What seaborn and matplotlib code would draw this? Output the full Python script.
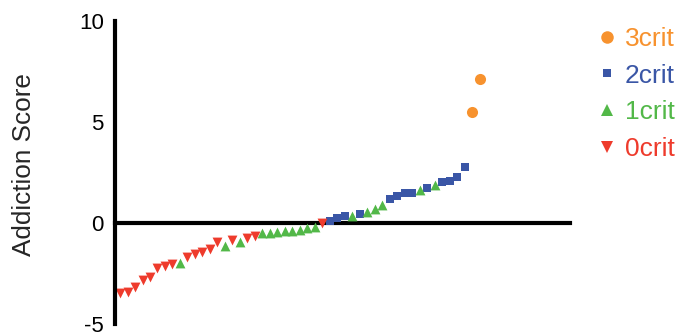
import matplotlib
matplotlib.use("Agg")
import matplotlib.pyplot as plt
import seaborn as sns
import pandas as pd
from matplotlib.lines import Line2D

# Addiction score per subject, in plotted (rank) order, with criteria group
groups = ["0crit"] * 8 + ["1crit"] + ["0crit"] * 5 + ["1crit", "0crit", "1crit", "0crit", "0crit"] \
    + ["1crit"] * 8 + ["0crit"] \
    + ["2crit"] * 3 + ["1crit", "2crit", "1crit", "1crit", "1crit"] \
    + ["2crit"] * 4 + ["1crit", "2crit", "1crit"] + ["2crit"] * 4 + ["3crit"] * 2
scores = [-3.47, -3.42, -3.17, -2.82, -2.67, -2.23, -2.13, -2.03,
          -1.98,
          -1.68, -1.53, -1.44, -1.29, -0.94,
          -1.14, -0.84, -0.94, -0.74, -0.64,
          -0.50, -0.50, -0.45, -0.40, -0.40, -0.35, -0.25, -0.20,
          0.00,
          0.10, 0.25, 0.35, 0.35, 0.45, 0.55, 0.70, 0.90,
          1.20, 1.35, 1.50, 1.50, 1.65, 1.75, 1.90,
          2.05, 2.10, 2.30, 2.75,
          5.50, 7.15]

legend_order = ["3crit", "2crit", "1crit", "0crit"]
colors = {"3crit": "#F7922E", "2crit": "#3A56A6", "1crit": "#52B848", "0crit": "#EE3B2C"}
markers = {"3crit": "o", "2crit": "s", "1crit": "^", "0crit": "v"}
sizes = {"3crit": 64, "2crit": 36, "1crit": 50, "0crit": 50}

df = pd.DataFrame({"rank": range(len(scores)), "score": scores, "group": groups})

sns.set_style("white")
plt.rcParams["font.family"] = ["Liberation Sans", "DejaVu Sans"]
plt.rcParams["axes.unicode_minus"] = False

fig = plt.figure(figsize=(6.82, 3.35), dpi=100)
ax = fig.add_axes([0.1686, 0.0328, 0.667, 0.9045])

for g in legend_order:
    sub = df[df["group"] == g]
    sns.scatterplot(data=sub, x="rank", y="score", color=colors[g], marker=markers[g],
                    s=sizes[g], linewidth=0, ax=ax, legend=False, zorder=3, clip_on=False)

ax.set_xlim(-0.67, 60)
ax.set_ylim(-5, 10)
ax.set_yticks([-5, 0, 5, 10])
ax.set_xticks([])
ax.set_xlabel("")
ax.set_ylabel("Addiction Score", fontsize=18.8, labelpad=31, y=0.525)

for side in ("top", "right"):
    ax.spines[side].set_visible(False)
ax.spines["bottom"].set_position(("data", 0))
for side in ("left", "bottom"):
    ax.spines[side].set_linewidth(3)
    ax.spines[side].set_color("black")
ax.tick_params(axis="y", direction="out", length=6, width=3, labelsize=16, pad=2, colors="black")
ax.spines["left"].set_zorder(4)
ax.spines["bottom"].set_zorder(2)

handles = [Line2D([], [], linestyle="none", marker=markers[g], color=colors[g],
                  markersize={"3crit": 9, "2crit": 6, "1crit": 8.5, "0crit": 8.5}[g],
                  markeredgewidth=0) for g in legend_order]
fig.legend(handles, legend_order, loc="upper left", bbox_to_anchor=(0.843, 0.975),
           frameon=False, fontsize=19, labelcolor=[colors[g] for g in legend_order],
           handlelength=1.0, handletextpad=0.2, labelspacing=0.48, borderpad=0.2)

fig.savefig("out.png", dpi=100)
